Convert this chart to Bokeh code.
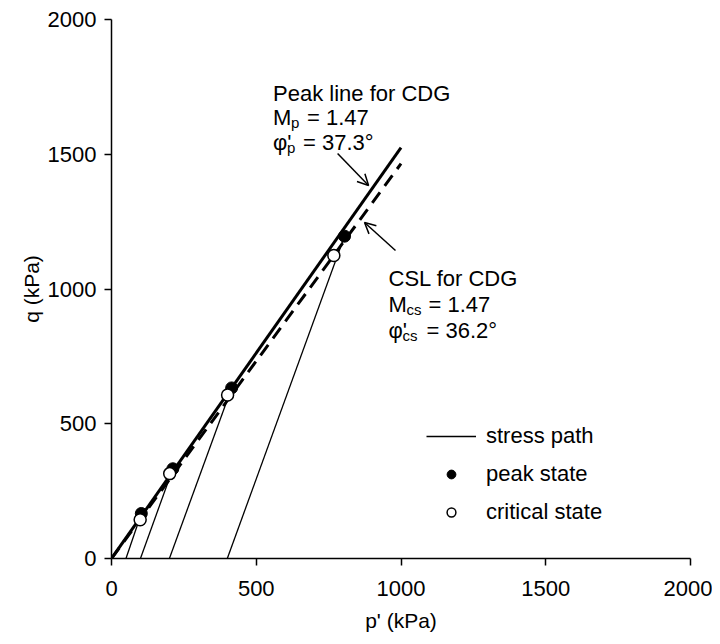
from bokeh.plotting import figure
from bokeh.models import (Range1d, FixedTicker, Label, Arrow, OpenHead,
                          Legend, LegendItem, ColumnDataSource)
from bokeh.embed import file_html
from bokeh.resources import INLINE

# ---- data ----
start_p = [50, 100, 200, 400]          # start of each stress path (q = 0)
peak_p = [103, 212, 415, 805]
peak_q = [167, 333, 633, 1196]
crit_p = [99, 201, 401, 768]
crit_q = [144, 315, 607, 1124]
peak_line_p = [0, 1000]
peak_line_q = [0, 1525]
csl_p = [0, 1000]
csl_q = [0, 1465]
ticks = [0, 500, 1000, 1500, 2000]

FONT = "Liberation Sans"

p = figure(width=712, height=636, output_backend="svg", toolbar_location=None,
           x_range=Range1d(0, 2000), y_range=Range1d(0, 2000),
           min_border_left=111, min_border_right=22,
           min_border_top=19, min_border_bottom=78)
p.outline_line_color = None
p.xgrid.visible = False
p.ygrid.visible = False

for ax in (p.xaxis[0], p.yaxis[0]):
    ax.ticker = FixedTicker(ticks=ticks)
    ax.axis_line_width = 1.5
    ax.axis_line_color = "black"
    ax.major_tick_line_color = "black"
    ax.major_tick_line_width = 1.5
    ax.major_tick_in = 0
    ax.major_tick_out = 7
    ax.minor_tick_line_color = None
    ax.major_label_text_font = FONT
    ax.major_label_text_font_size = "22px"
    ax.major_label_text_color = "black"
    ax.axis_label_text_font = FONT
    ax.axis_label_text_font_size = "21px"
    ax.axis_label_text_font_style = "normal"
    ax.axis_label_text_color = "black"

p.xaxis.axis_label = "p' (kPa)"
p.yaxis.axis_label = "q (kPa)"
p.xaxis.major_label_standoff = 15
p.yaxis.major_label_standoff = 8
p.xaxis.axis_label_standoff = 10
p.yaxis.axis_label_standoff = 2

# stress paths: from start (q=0) to peak
path_src = ColumnDataSource(dict(
    xs=[[s, pp] for s, pp in zip(start_p, peak_p)],
    ys=[[0, pq] for pq in peak_q]))
paths = p.multi_line("xs", "ys", source=path_src, line_color="black", line_width=1.3)

# peak line and CSL
p.line(peak_line_p, peak_line_q, line_color="black", line_width=3)
p.line(csl_p, csl_q, line_color="black", line_width=3, line_dash="13 8")

peak_r = p.scatter(peak_p, peak_q, size=12, fill_color="black", line_color="black")
crit_r = p.scatter(crit_p, crit_q, size=12, fill_color="white", line_color="black",
                   line_width=1.5)

legend = Legend(items=[
    LegendItem(label="stress path", renderers=[paths]),
    LegendItem(label="peak state", renderers=[peak_r]),
    LegendItem(label="critical state", renderers=[crit_r]),
], location=(315, 33))
legend.border_line_color = None
legend.background_fill_alpha = 0
legend.label_text_font = FONT
legend.label_text_font_size = "22px"
legend.label_text_color = "black"
legend.glyph_width = 50
legend.glyph_height = 22
legend.label_height = 22
legend.label_standoff = 10
legend.spacing = 12
legend.padding = 0
legend.margin = 0
p.add_layout(legend, "center")

# annotations
def lab(x, y, text, dx=0, dy=0, size="22px"):
    p.add_layout(Label(x=x, y=y, text=text, x_offset=dx, y_offset=dy,
                       text_font=FONT, text_font_size=size, text_color="black",
                       text_baseline="alphabetic", text_align="left"))

# Peak line text
lab(558, 1725, "Peak line for CDG")
lab(558, 1636, "M")
lab(558, 1636, "p", dx=18, dy=-5, size="15px")
lab(558, 1636, "= 1.47", dx=34)
lab(558, 1544, "\u03c6'")
lab(558, 1544, "p", dx=14, dy=-5, size="15px")
lab(558, 1544, "= 37.3\u00b0", dx=30)

# CSL text
lab(957, 1039, "CSL for CDG")
lab(957, 942, "M")
lab(957, 942, "cs", dx=18, dy=-5, size="15px")
lab(957, 942, "= 1.47", dx=40)
lab(957, 846, "\u03c6'")
lab(957, 846, "cs", dx=14, dy=-5, size="15px")
lab(957, 846, "= 36.2\u00b0", dx=38)

p.add_layout(Arrow(end=OpenHead(size=11, line_width=1.5, line_color="black"),
                   x_start=781, y_start=1503, x_end=888, y_end=1384,
                   line_width=1.5, line_color="black"))
p.add_layout(Arrow(end=OpenHead(size=11, line_width=1.5, line_color="black"),
                   x_start=981, y_start=1143, x_end=874, y_end=1247,
                   line_width=1.5, line_color="black"))

open("out.html", "w").write(file_html(p, INLINE))
